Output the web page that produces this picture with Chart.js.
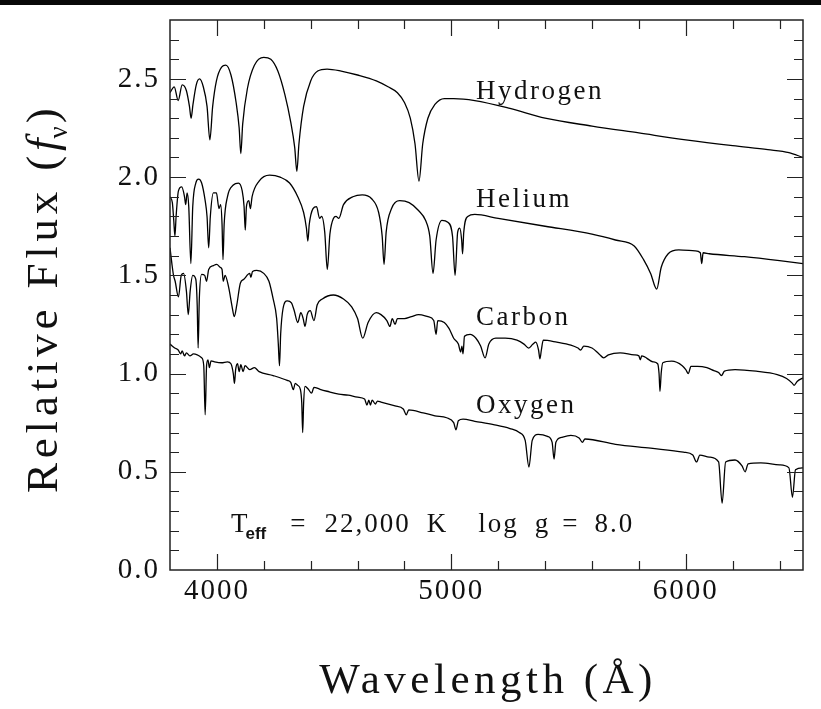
<!DOCTYPE html>
<html>
<head>
<meta charset="utf-8">
<script src="https://cdn.jsdelivr.net/npm/chart.js@4.4.1/dist/chart.umd.min.js"></script>
<style>
  html, body { margin: 0; padding: 0; background: #fff; overflow: hidden; }
  canvas { display: block; }
</style>
</head>
<body>
<canvas id="spectra" width="821" height="709"></canvas>
<script>
// Model DA / DB / DQ / oxygen spectra, [wavelength (A), relative f_nu]
const hydrogen = [
  [3800, 2.43], [3818, 2.46], [3835, 2.39], [3852, 2.47], [3870, 2.44], [3883, 2.36], [3890, 2.30],
  [3898, 2.37], [3912, 2.47], [3926, 2.50], [3942, 2.46], [3958, 2.36], [3970, 2.19], [3982, 2.36],
  [3998, 2.49], [4020, 2.56], [4038, 2.57], [4060, 2.52], [4082, 2.38], [4095, 2.25], [4102, 2.12],
  [4110, 2.27], [4130, 2.45], [4160, 2.57], [4200, 2.61], [4230, 2.60], [4260, 2.54], [4290, 2.42],
  [4315, 2.28], [4332, 2.15], [4341, 2.03], [4350, 2.17], [4370, 2.36], [4400, 2.49], [4430, 2.54],
  [4470, 2.55], [4530, 2.54], [4600, 2.52], [4680, 2.49], [4730, 2.46], [4770, 2.43], [4800, 2.38],
  [4825, 2.30], [4845, 2.17], [4862, 1.98], [4878, 2.17], [4900, 2.30], [4930, 2.37], [4970, 2.40],
  [5010, 2.40], [5100, 2.39], [5250, 2.35], [5400, 2.30], [5600, 2.26], [5800, 2.225], [6000, 2.19],
  [6200, 2.16], [6350, 2.14], [6440, 2.125], [6500, 2.10]
];

const helium = [
  [3800, 1.90], [3810, 1.87], [3816, 1.78], [3821, 1.70], [3826, 1.80], [3836, 1.93], [3850, 1.95],
  [3862, 1.90], [3867, 1.86], [3873, 1.92], [3880, 1.85], [3889, 1.56], [3897, 1.85], [3910, 1.97],
  [3922, 1.99], [3935, 1.97], [3950, 1.88], [3958, 1.80], [3965, 1.64], [3972, 1.80], [3985, 1.92],
  [3998, 1.92], [4009, 1.84], [4016, 1.86], [4022, 1.76], [4026, 1.58], [4031, 1.76], [4045, 1.90],
  [4070, 1.96], [4092, 1.97], [4108, 1.93], [4116, 1.85], [4121, 1.73], [4126, 1.85], [4136, 1.88],
  [4143, 1.84], [4150, 1.90], [4180, 1.98], [4225, 2.01], [4270, 2.00], [4310, 1.97], [4345, 1.90],
  [4370, 1.82], [4382, 1.74], [4388, 1.675], [4394, 1.76], [4410, 1.84], [4425, 1.85], [4438, 1.79],
  [4447, 1.80], [4460, 1.72], [4471, 1.53], [4482, 1.71], [4497, 1.79], [4508, 1.80], [4520, 1.79],
  [4540, 1.86], [4580, 1.90], [4620, 1.91], [4660, 1.89], [4690, 1.82], [4705, 1.70], [4713, 1.556],
  [4722, 1.72], [4745, 1.84], [4780, 1.88], [4820, 1.87], [4860, 1.83], [4890, 1.78], [4908, 1.70],
  [4922, 1.51], [4935, 1.68], [4960, 1.78], [4985, 1.77], [5005, 1.70], [5016, 1.50], [5027, 1.72],
  [5036, 1.74], [5044, 1.68], [5048, 1.61], [5053, 1.72], [5070, 1.80], [5100, 1.81], [5200, 1.79],
  [5400, 1.75], [5600, 1.71], [5700, 1.68], [5780, 1.65], [5820, 1.58], [5850, 1.51], [5876, 1.43],
  [5895, 1.54], [5925, 1.61], [5970, 1.63], [6040, 1.625], [6062, 1.615], [6068, 1.56], [6074, 1.615],
  [6100, 1.61], [6250, 1.595], [6400, 1.575], [6500, 1.56]
];

const carbon = [
  [3800, 1.64], [3808, 1.56], [3815, 1.50], [3822, 1.47], [3836, 1.39], [3848, 1.50], [3858, 1.51],
  [3870, 1.42], [3878, 1.30], [3886, 1.42], [3897, 1.50], [3910, 1.48], [3916, 1.35], [3920, 1.13],
  [3925, 1.38], [3935, 1.505], [3948, 1.50], [3956, 1.47], [3965, 1.53], [3985, 1.55], [3999, 1.556],
  [4015, 1.54], [4022, 1.53], [4027, 1.47], [4035, 1.50], [4050, 1.44], [4065, 1.34], [4074, 1.29],
  [4085, 1.35], [4100, 1.46], [4115, 1.48], [4140, 1.51], [4145, 1.49], [4152, 1.52], [4170, 1.525],
  [4200, 1.51], [4222, 1.47], [4240, 1.38], [4255, 1.28], [4262, 1.15], [4267, 1.04], [4272, 1.20],
  [4282, 1.33], [4300, 1.37], [4318, 1.36], [4330, 1.32], [4345, 1.26], [4358, 1.31], [4368, 1.28],
  [4376, 1.24], [4385, 1.30], [4398, 1.32], [4414, 1.27], [4428, 1.35], [4450, 1.38], [4497, 1.40],
  [4540, 1.38], [4575, 1.34], [4600, 1.28], [4622, 1.18], [4645, 1.26], [4680, 1.31], [4700, 1.30],
  [4725, 1.27], [4738, 1.24], [4748, 1.28], [4760, 1.25], [4770, 1.28], [4800, 1.28], [4830, 1.29],
  [4860, 1.30], [4900, 1.29], [4925, 1.27], [4935, 1.20], [4942, 1.27], [4970, 1.26], [4990, 1.23],
  [5010, 1.18], [5030, 1.15], [5040, 1.11], [5045, 1.14], [5050, 1.10], [5056, 1.19], [5080, 1.20],
  [5105, 1.18], [5125, 1.14], [5144, 1.08], [5160, 1.15], [5190, 1.18], [5230, 1.18], [5280, 1.17],
  [5310, 1.15], [5330, 1.13], [5348, 1.15], [5360, 1.16], [5372, 1.12], [5378, 1.075], [5384, 1.12],
  [5392, 1.17], [5450, 1.16], [5510, 1.145], [5540, 1.13], [5552, 1.12], [5565, 1.14], [5600, 1.13],
  [5630, 1.10], [5650, 1.08], [5670, 1.095], [5720, 1.105], [5780, 1.095], [5800, 1.09], [5806, 1.07],
  [5812, 1.09], [5860, 1.06], [5880, 1.05], [5886, 1.00], [5890, 0.91], [5895, 1.00], [5902, 1.055],
  [5940, 1.063], [5985, 1.04], [6000, 1.02], [6011, 1.00], [6022, 1.037], [6050, 1.037], [6090, 1.03],
  [6120, 1.015], [6140, 1.005], [6152, 0.99], [6165, 1.012], [6210, 1.02], [6300, 1.012], [6390, 0.995],
  [6430, 0.975], [6455, 0.95], [6462, 0.94], [6475, 0.96], [6500, 0.978]
];

const oxygen = [
  [3800, 1.15], [3820, 1.13], [3835, 1.12], [3845, 1.10], [3852, 1.115], [3862, 1.09], [3870, 1.105],
  [3885, 1.09], [3900, 1.10], [3935, 1.08], [3944, 1.04], [3950, 0.79], [3956, 1.04], [3962, 1.07],
  [3968, 1.03], [3975, 1.065], [3990, 1.06], [4020, 1.055], [4045, 1.06], [4060, 1.05], [4070, 1.00],
  [4075, 0.95], [4080, 1.02], [4088, 1.05], [4095, 1.01], [4102, 1.045], [4112, 1.01], [4120, 1.04],
  [4140, 1.02], [4160, 1.03], [4180, 1.01], [4240, 0.99], [4300, 0.965], [4315, 0.955], [4326, 0.918],
  [4334, 0.95], [4345, 0.94], [4356, 0.92], [4362, 0.85], [4366, 0.70], [4370, 0.85], [4376, 0.935],
  [4390, 0.92], [4404, 0.90], [4414, 0.93], [4440, 0.92], [4470, 0.91], [4520, 0.895], [4560, 0.89],
  [4600, 0.88], [4630, 0.87], [4640, 0.84], [4648, 0.865], [4655, 0.84], [4662, 0.865], [4676, 0.845],
  [4685, 0.86], [4700, 0.855], [4760, 0.835], [4795, 0.82], [4808, 0.79], [4818, 0.815], [4880, 0.80],
  [4930, 0.785], [4980, 0.775], [5010, 0.75], [5020, 0.714], [5030, 0.76], [5050, 0.768], [5100, 0.757],
  [5180, 0.74], [5250, 0.72], [5290, 0.70], [5315, 0.66], [5331, 0.524], [5345, 0.66], [5370, 0.69],
  [5410, 0.68], [5430, 0.65], [5438, 0.565], [5446, 0.65], [5470, 0.675], [5510, 0.685], [5545, 0.672],
  [5559, 0.65], [5570, 0.667], [5700, 0.64], [5850, 0.62], [5990, 0.60], [6030, 0.585], [6046, 0.55],
  [6060, 0.585], [6100, 0.575], [6140, 0.55], [6155, 0.34], [6170, 0.55], [6210, 0.56], [6240, 0.53],
  [6253, 0.50], [6266, 0.54], [6320, 0.545], [6400, 0.535], [6440, 0.52], [6455, 0.37], [6468, 0.51],
  [6500, 0.52]
];

const seriesNames = ['Hydrogen', 'Helium', 'Carbon', 'Oxygen'];
// where each name sits, in data units (left edge, baseline)
const nameAnchors = [[5105, 2.398], [5105, 1.847], [5105, 1.245], [5105, 0.801]];

const xRange = [3800, 6500];
const yRange = [0, 2.8];
const xTickLabels = [4000, 5000, 6000];
const yTickLabels = [0, 0.5, 1.0, 1.5, 2.0, 2.5];

const SERIF = "'Liberation Serif', 'Times New Roman', serif";

// white page with a dark strip along the top edge, inward ticks on all four sides
const frame = {
  id: 'frame',
  beforeDraw(chart) {
    const ctx = chart.ctx;
    ctx.save();
    ctx.fillStyle = '#fff';
    ctx.fillRect(0, 0, chart.width, chart.height);
    ctx.fillStyle = '#080808';
    ctx.fillRect(0, 0, chart.width, 5);
    ctx.restore();
    ctx.letterSpacing = '2px';
  },
  afterDatasetsDraw(chart) {
    const { ctx, chartArea: a, scales: { x, y } } = chart;
    ctx.save();
    ctx.strokeStyle = '#222';
    ctx.lineWidth = 1.5;
    ctx.strokeRect(a.left, a.top, a.right - a.left, a.bottom - a.top);
    ctx.lineWidth = 1.2;
    ctx.beginPath();
    for (let v = 4000; v < 6500; v += 200) {
      const px = Math.round(x.getPixelForValue(v)) + 0.5;
      const len = v % 1000 === 0 ? 16 : 9;
      ctx.moveTo(px, a.bottom); ctx.lineTo(px, a.bottom - len);
      ctx.moveTo(px, a.top); ctx.lineTo(px, a.top + len);
    }
    for (let i = 1; i < 28; i++) {
      const py = Math.round(y.getPixelForValue(i / 10)) + 0.5;
      const len = i % 5 === 0 ? 16 : 9;
      ctx.moveTo(a.left, py); ctx.lineTo(a.left + len, py);
      ctx.moveTo(a.right, py); ctx.lineTo(a.right - len, py);
    }
    ctx.stroke();
    ctx.restore();
  }
};

function drawPieces(ctx, pieces) {
  let cx = 0;
  pieces.forEach(p => {
    ctx.font = p.font;
    ctx.letterSpacing = (p.spacing || 0) + 'px';
    ctx.fillText(p.text, cx + (p.dx || 0), p.dy || 0);
    cx += (p.dx || 0) + ctx.measureText(p.text).width;
  });
  return cx;
}

// axis titles, species names and the model parameters
const labels = {
  id: 'labels',
  afterDraw(chart) {
    const { ctx, scales: { x, y } } = chart;
    ctx.save();
    ctx.fillStyle = '#111';
    ctx.textBaseline = 'alphabetic';
    ctx.textAlign = 'left';

    // species names
    ctx.font = '27px ' + SERIF;
    ctx.letterSpacing = '2.5px';
    seriesNames.forEach((name, i) => {
      ctx.fillText(name, x.getPixelForValue(nameAnchors[i][0]), y.getPixelForValue(nameAnchors[i][1]));
    });

    // T_eff and log g
    const small = '27px ' + SERIF;
    ctx.save();
    ctx.translate(x.getPixelForValue(4060), y.getPixelForValue(0.194));
    drawPieces(ctx, [
      { text: 'T', font: small, spacing: 0 },
      { text: 'eff', font: 'bold 17px "Liberation Sans", Arial, sans-serif', dy: 7, dx: -2, spacing: 0 },
      { text: '=', font: small, dx: 24, spacing: 0 },
      { text: '22,000', font: small, dx: 19, spacing: 2 },
      { text: 'K', font: small, dx: 16, spacing: 0 },
      { text: 'log', font: small, dx: 32, spacing: 2 },
      { text: 'g', font: small, dx: 16, spacing: 0 },
      { text: '=', font: small, dx: 14, spacing: 0 },
      { text: '8.0', font: small, dx: 17, spacing: 2 }
    ]);
    ctx.restore();

    // x title
    const big = '43px ' + SERIF;
    ctx.font = big;
    ctx.letterSpacing = '4.5px';
    ctx.textAlign = 'center';
    ctx.fillText('Wavelength (\u00C5)', 488, 693);
    ctx.textAlign = 'left';

    // y title, rotated
    ctx.save();
    ctx.translate(57, 493);
    ctx.rotate(-Math.PI / 2);
    drawPieces(ctx, [
      { text: 'Relative Flux (', font: '45px ' + SERIF, spacing: 4.8 },
      { text: 'f', font: 'italic 45px ' + SERIF, spacing: 0 },
      { text: '\u03BD', font: '27px ' + SERIF, dy: 10, spacing: 0 },
      { text: ')', font: '45px ' + SERIF, dx: 3, spacing: 0 }
    ]);
    ctx.restore();
    ctx.restore();
  }
};

const toPoints = arr => arr.map(([w, f]) => ({ x: w, y: f }));
const datasets = [hydrogen, helium, carbon, oxygen].map((arr, i) => ({
  label: seriesNames[i],
  data: toPoints(arr),
  borderColor: '#000',
  borderWidth: 1.3,
  pointRadius: 0,
  fill: false,
  cubicInterpolationMode: 'monotone'
}));

const tickFont = { family: SERIF, size: 29 };

new Chart(document.getElementById('spectra'), {
  type: 'line',
  data: { datasets },
  options: {
    responsive: false,
    animation: false,
    devicePixelRatio: 1,
    layout: { padding: { top: 20, right: 18, left: 0, bottom: 0 } },
    plugins: { legend: { display: false }, tooltip: { enabled: false } },
    scales: {
      x: {
        type: 'linear',
        min: xRange[0],
        max: xRange[1],
        grid: { display: false, drawTicks: false },
        border: { display: false },
        afterBuildTicks: s => { s.ticks = xTickLabels.map(v => ({ value: v })); },
        afterFit: s => { s.height = 139; s.paddingLeft = 0; s.paddingRight = 0; },
        ticks: { font: tickFont, color: '#111', padding: 4, maxRotation: 0, callback: v => String(v) }
      },
      y: {
        type: 'linear',
        min: yRange[0],
        max: yRange[1],
        grid: { display: false, drawTicks: false },
        border: { display: false },
        afterBuildTicks: s => { s.ticks = yTickLabels.map(v => ({ value: v })); },
        afterFit: s => { s.width = 170; s.paddingTop = 0; s.paddingBottom = 0; },
        ticks: { font: tickFont, color: '#111', padding: 10, callback: v => Number(v).toFixed(1) }
      }
    }
  },
  plugins: [frame, labels]
});
</script>
</body>
</html>
